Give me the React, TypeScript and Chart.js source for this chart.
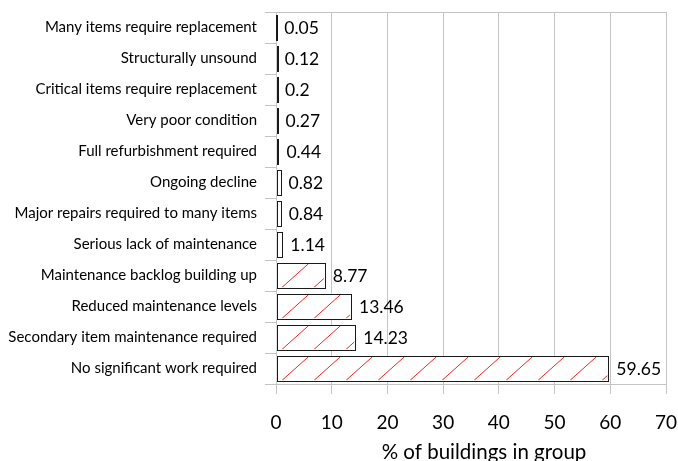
import { useEffect, useRef } from "react";
import { Chart, registerables } from "chart.js";

Chart.register(...registerables);

// Condition categories, listed top to bottom
const categories: string[] = [
  "Many items require replacement",
  "Structurally unsound",
  "Critical items require replacement",
  "Very poor condition",
  "Full refurbishment required",
  "Ongoing decline",
  "Major repairs required to many items",
  "Serious lack of maintenance",
  "Maintenance backlog building up",
  "Reduced maintenance levels",
  "Secondary item maintenance required",
  "No significant work required",
];

// Share of buildings in each category (%)
const values: number[] = [0.05, 0.12, 0.2, 0.27, 0.44, 0.82, 0.84, 1.14, 8.77, 13.46, 14.23, 59.65];

// Value axis range
const xMin = 0;
const xMax = 70;
const xStep = 10;

const xTitle = "% of buildings in group";

// Rows from this index downward are drawn with the red hatch
const HATCH_FROM = 8;

const FONT = "Lato, 'Open Sans', sans-serif";
const GRID = "#c4c4c4";

function barRect(el: any) {
  const { x, y, base, height } = el.getProps(["x", "y", "base", "height"], true);
  return {
    left: Math.min(base, x),
    right: Math.max(base, x),
    top: y - height / 2,
    bottom: y + height / 2,
  };
}

// Red diagonal hatching inside the hatched bars
const hatchBars = {
  id: "hatchBars",
  afterDatasetsDraw(chart: any) {
    const ctx = chart.ctx;
    const meta = chart.getDatasetMeta(0);
    const area = chart.chartArea;
    const spacing = 32;
    const anchor = area.left + 6;
    ctx.save();
    ctx.strokeStyle = "#ff2020";
    ctx.lineWidth = 1;
    meta.data.forEach((el: any, i: number) => {
      if (i < HATCH_FROM) return;
      const r = barRect(el);
      const left = r.left + 1;
      const right = r.right - 1;
      const top = r.top + 1;
      const bottom = r.bottom - 1;
      const run = (bottom - top) * 1.12;
      ctx.save();
      ctx.beginPath();
      ctx.rect(left, top, right - left, bottom - top);
      ctx.clip();
      ctx.beginPath();
      for (let sx = anchor - spacing * 2; sx < right + spacing; sx += spacing) {
        ctx.moveTo(sx, bottom);
        ctx.lineTo(sx + run, top);
      }
      ctx.stroke();
      ctx.restore();
    });
    ctx.restore();
  },
};

// Crisp 1px outline on every bar, kept even when the bar is thinner than a pixel
const barOutlines = {
  id: "barOutlines",
  afterDatasetsDraw(chart: any) {
    const ctx = chart.ctx;
    const meta = chart.getDatasetMeta(0);
    ctx.save();
    ctx.strokeStyle = "#1a1a1a";
    ctx.lineWidth = 1;
    meta.data.forEach((el: any) => {
      const r = barRect(el);
      const l = Math.round(r.left);
      const t = Math.round(r.top);
      const w = Math.max(Math.round(r.right) - l, 1);
      const h = Math.round(r.bottom) - t;
      ctx.strokeRect(l + 0.5, t + 0.5, w, h);
    });
    ctx.restore();
  },
};

// Value printed to the right of each bar
const valueLabels = {
  id: "valueLabels",
  afterDatasetsDraw(chart: any) {
    const ctx = chart.ctx;
    const meta = chart.getDatasetMeta(0);
    const data = chart.data.datasets[0].data as number[];
    ctx.save();
    ctx.font = `17.5px ${FONT}`;
    ctx.fillStyle = "#000";
    ctx.textAlign = "left";
    ctx.textBaseline = "middle";
    meta.data.forEach((el: any, i: number) => {
      ctx.fillText(String(data[i]), el.x + 8, el.y + 1);
    });
    ctx.restore();
  },
};

// Value-axis caption below the tick labels
const axisCaption = {
  id: "axisCaption",
  afterDraw(chart: any) {
    const ctx = chart.ctx;
    const area = chart.chartArea;
    ctx.save();
    ctx.font = `20.5px ${FONT}`;
    ctx.fillStyle = "#000";
    ctx.textAlign = "center";
    ctx.textBaseline = "alphabetic";
    ctx.fillText(xTitle, (area.left + area.right) / 2 + 13, chart.height - 2);
    ctx.restore();
  },
};

export default function App() {
  const canvasRef = useRef<HTMLCanvasElement | null>(null);

  useEffect(() => {
    const canvas = canvasRef.current;
    if (!canvas) return;

    const chart = new Chart(canvas, {
      type: "bar",
      data: {
        labels: categories,
        datasets: [
          {
            data: values,
            backgroundColor: "#ffffff",
            borderWidth: 0,
            barPercentage: 0.83,
            categoryPercentage: 1,
          },
        ],
      },
      plugins: [hatchBars, barOutlines, valueLabels, axisCaption],
      options: {
        indexAxis: "y",
        responsive: false,
        animation: false,
        layout: { padding: { top: 12, right: 12, bottom: 0, left: 0 } },
        plugins: {
          legend: { display: false },
          tooltip: { enabled: false },
        },
        scales: {
          x: {
            min: xMin,
            max: xMax,
            ticks: {
              stepSize: xStep,
              color: "#000",
              font: { family: FONT, size: 19 },
              padding: 17,
            },
            grid: { color: GRID, lineWidth: 1, tickLength: 10, tickColor: GRID },
            border: { display: true, color: GRID },
            afterFit: (scale: any) => {
              scale.height = 77;
              scale.paddingLeft = 0;
              scale.paddingRight = 0;
            },
          },
          y: {
            ticks: {
              color: "#000",
              font: { family: FONT, size: 15 },
              padding: 8,
            },
            grid: {
              offset: true,
              color: (c: any) => (c.index === 0 ? GRID : "rgba(0,0,0,0)"),
              tickColor: GRID,
              tickLength: 11,
              lineWidth: 1,
            },
            border: { display: true, color: GRID },
            afterFit: (scale: any) => {
              scale.width = 276;
              scale.paddingTop = 0;
              scale.paddingBottom = 0;
            },
          },
        },
      },
    });

    return () => chart.destroy();
  }, []);

  return (
    <div style={{ position: "fixed", left: 0, top: 0, width: 678, height: 461, background: "#fff" }}>
      <canvas ref={canvasRef} width={678} height={461} style={{ width: 678, height: 461, display: "block" }} />
    </div>
  );
}
